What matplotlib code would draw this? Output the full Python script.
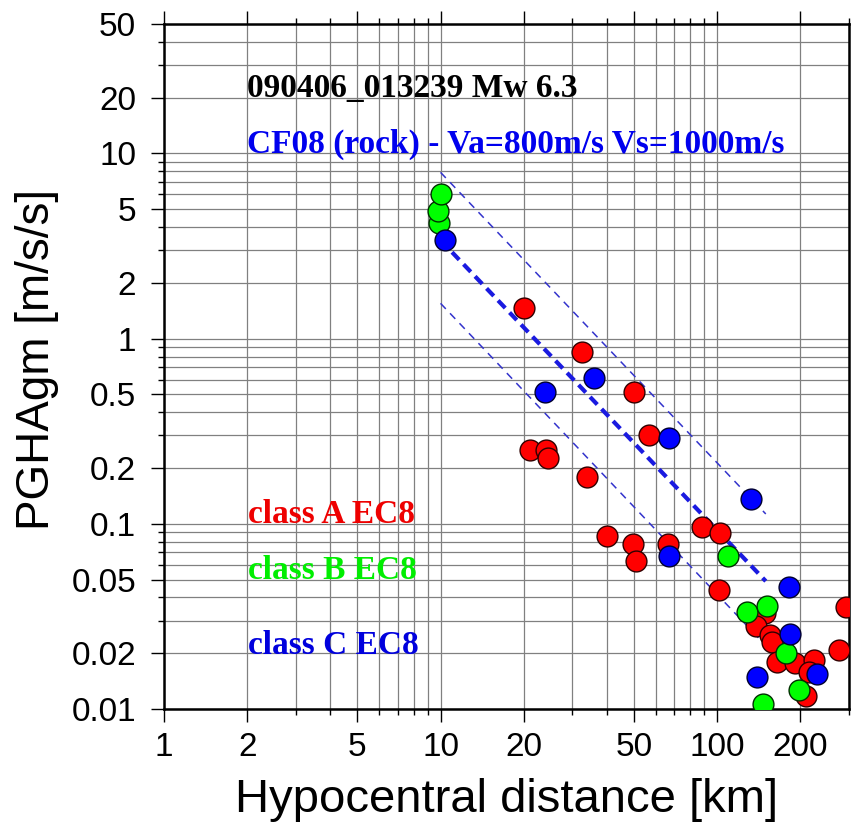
import numpy as np
import matplotlib.pyplot as plt
from matplotlib.ticker import FixedLocator, NullFormatter

# ======================================================================
# Datos
# ======================================================================

# Estaciones clase A EC8 (rojo)
dist_A = [20.0, 32.6, 49.9, 56.8, 21.0, 24.1, 24.4, 33.9, 88.1, 102.3, 39.9, 49.5,
          50.9, 66.2, 101.7, 149, 138, 155, 158.5, 165, 192, 224, 215, 209, 275, 291.5]
pga_A = [1.47, 0.847, 0.512, 0.303, 0.251, 0.251, 0.226, 0.180, 0.096, 0.089, 0.0861, 0.078,
         0.0626, 0.078, 0.044, 0.0329, 0.0279, 0.0251, 0.0231, 0.018, 0.0177, 0.0184, 0.0159,
         0.0118, 0.0207, 0.0357]

# Estaciones clase B EC8 (verde)
dist_B = [9.9, 9.77, 10.04, 109.3, 128.6, 152, 178, 197, 146.6]
pga_B = [4.22, 4.88, 6.0, 0.0666, 0.0332, 0.0362, 0.020, 0.0126, 0.0106]

# Estaciones clase C EC8 (azul)
dist_C = [10.4, 35.8, 23.9, 67.1, 133, 66.8, 182, 183.4, 230, 139]
pga_C = [3.40, 0.613, 0.515, 0.29, 0.136, 0.067, 0.0458, 0.0254, 0.0155, 0.0148]

# Ley de atenuacion CF08 (mediana y +/- sigma)
dist_ley = [10, 150]
pga_mediana = [3.4, 0.049]
pga_sup = [7.9, 0.113]
pga_inf = [1.55, 0.022]

x_major = [1, 2, 5, 10, 20, 50, 100, 200]
x_labels = ['1', '2', '5', '10', '20', '50', '100', '200']
y_major = [0.01, 0.02, 0.05, 0.1, 0.2, 0.5, 1, 2, 5, 10, 20, 50]
y_labels = ['0.01', '0.02', '0.05', '0.1', '0.2', '0.5', '1', '2', '5', '10', '20', '50']

titulo = '090406_013239 Mw 6.3'
modelo = 'CF08 (rock) - Va=800m/s Vs=1000m/s'

# ======================================================================
# Figura
# ======================================================================

plt.rcParams['font.family'] = ['Liberation Sans', 'DejaVu Sans']

fig = plt.figure(figsize=(8.52, 8.24), dpi=100)
ax = fig.add_axes([0.1925, 0.1396, 0.804, 0.8313])
ax.set_xscale('log')
ax.set_yscale('log')
ax.set_xlim(1, 300)
ax.set_ylim(0.01, 50)

# Ticks mayores (con etiqueta) y menores
ax.xaxis.set_major_locator(FixedLocator(x_major))
ax.set_xticklabels(x_labels)
ax.yaxis.set_major_locator(FixedLocator(y_major))
ax.set_yticklabels(y_labels)
minor_x = [m * d for d in (1, 10, 100) for m in range(1, 10) if m * d not in x_major and m * d <= 300]
minor_y = [m * d for d in (0.01, 0.1, 1, 10) for m in range(1, 10) if round(m * d, 4) not in y_major and m * d <= 50]
ax.xaxis.set_minor_locator(FixedLocator(minor_x))
ax.yaxis.set_minor_locator(FixedLocator(minor_y))
ax.xaxis.set_minor_formatter(NullFormatter())
ax.yaxis.set_minor_formatter(NullFormatter())

ax.tick_params(which='major', direction='out', length=9.5, width=1.0, labelsize=24, top=True)
ax.tick_params(which='minor', direction='out', length=4.5, width=1.0, top=True)
ax.tick_params(axis='x', which='major', pad=7)
ax.tick_params(axis='y', which='major', pad=10.5)
ax.grid(True, which='both', color='0.5', linewidth=0.9)
ax.set_axisbelow(True)
for s in ax.spines.values():
    s.set_linewidth(1.8)

# Lineas de la ley de atenuacion
ax.plot(dist_ley, pga_mediana, color='#1a1ae0', linewidth=3.0, dashes=(2.5, 1.5), zorder=3)
ax.plot(dist_ley, pga_sup, color='#3333cc', linewidth=1.1, dashes=(5, 4), zorder=3)
ax.plot(dist_ley, pga_inf, color='#3333cc', linewidth=1.1, dashes=(5, 4), zorder=3)

# Puntos por clase de suelo
ax.scatter(dist_A, pga_A, s=225, c='#ff0000', edgecolors='#300000', linewidths=1.0, zorder=4)
ax.scatter(dist_B, pga_B, s=225, c='#00ff00', edgecolors='#003000', linewidths=1.0, zorder=5)
ax.scatter(dist_C, pga_C, s=225, c='#0000ff', edgecolors='#000030', linewidths=1.0, zorder=6)

# Textos
fuente = dict(family=['Liberation Serif', 'DejaVu Serif'], weight='bold', fontsize=24)
ax.text(0.121, 0.893, titulo, color='black', transform=ax.transAxes, va='baseline', **fuente)
ax.text(0.121, 0.8117, modelo, color='#0000ee', transform=ax.transAxes, va='baseline', **fuente)
ax.text(0.123, 0.2715, 'class A EC8', color='#ee0000', transform=ax.transAxes, va='baseline', **fuente)
ax.text(0.123, 0.190, 'class B EC8', color='#00ee00', transform=ax.transAxes, va='baseline', **fuente)
ax.text(0.123, 0.080, 'class C EC8', color='#0000dd', transform=ax.transAxes, va='baseline', **fuente)

ax.set_xlabel('Hypocentral distance [km]', fontsize=34, labelpad=11)
ax.set_ylabel('PGHAgm [m/s/s]', fontsize=33)
ax.yaxis.set_label_coords(-0.153, 0.51)

fig.savefig('out.png', dpi=100)
